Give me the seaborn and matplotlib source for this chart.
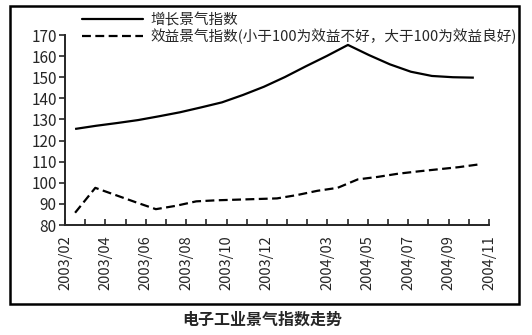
import numpy as np
import pandas as pd
import seaborn as sns
import matplotlib
matplotlib.use("Agg")
import matplotlib.pyplot as plt
from matplotlib.patches import Rectangle

# Month ticks along the x axis (2003/02 .. 2004/11) and the ones that carry a label
tick_labels = ["2003/02", "2003/04", "2003/06", "2003/08", "2003/10", "2003/12",
               "2004/03", "2004/05", "2004/07", "2004/09", "2004/11"]
tick_slots = [0, 2, 4, 6, 8, 10, 13, 15, 17, 19, 21]

# Growth climate index (20 readings)
growth_index = [125.5, 127.0, 128.3, 129.7, 131.5, 133.4, 135.7, 138.1, 141.6, 145.5,
                150.1, 155.2, 160.1, 165.3, 160.5, 156.1, 152.6, 150.6, 150.0, 149.8]

# Profit climate index (21 readings)
profit_index = [85.8, 97.6, 94.2, 90.8, 87.5, 89.1, 91.2, 91.7, 92.0, 92.3, 92.6,
                94.2, 96.2, 97.6, 101.6, 102.8, 104.3, 105.4, 106.4, 107.4, 108.7]

series_names = ["增长景气指数", "效益景气指数(小于100为效益不好，大于100为效益良好)"]
chart_title = "电子工业景气指数走势"

sns.set_style("ticks")
plt.rcParams["font.family"] = ["Noto Sans CJK SC", "DejaVu Sans"]

growth_df = pd.DataFrame({"x": np.linspace(0.5, 20.25, len(growth_index)),
                          "value": growth_index, "series": series_names[0]})
profit_df = pd.DataFrame({"x": np.linspace(0.5, 20.5, len(profit_index)),
                          "value": profit_index, "series": series_names[1]})
df = pd.concat([growth_df, profit_df], ignore_index=True)

W, H = 532, 335
fig = plt.figure(figsize=(W / 100, H / 100), dpi=100)
ax = fig.add_axes([65 / W, 1 - 225 / H, (489 - 65) / W, (225 - 35) / H])

sns.lineplot(data=df, x="x", y="value", hue="series", style="series",
             palette=["black", "black"], dashes=[(1, 0), (4, 2)],
             linewidth=1.6, sort=False, legend=False, ax=ax)

ax.set_xlim(0, 21)
ax.set_ylim(80, 170)
ax.set_yticks(np.arange(80, 171, 10))
ax.set_xticks(np.arange(0, 22))
ax.set_xticklabels(["" for _ in range(22)])
for pos, lab in zip(tick_slots, tick_labels):
    ax.text(pos, -0.055, lab, rotation=90, ha="center", va="top",
            transform=ax.get_xaxis_transform(), fontsize=10.5)
ax.set_xlabel("")
ax.set_ylabel("")
ax.tick_params(axis="x", direction="in", length=4, width=1.2)
ax.tick_params(axis="y", direction="out", length=4, width=1.2, labelsize=11, pad=2)
for side in ["top", "right"]:
    ax.spines[side].set_visible(False)
for side in ["left", "bottom"]:
    ax.spines[side].set_linewidth(1.4)
ax.patch.set_alpha(0)

# Legend drawn above the plotting area
handles = [plt.Line2D([], [], color="black", lw=1.6),
           plt.Line2D([], [], color="black", lw=1.6, dashes=(4, 2))]
fig.legend(handles, series_names, loc="upper left",
           bbox_to_anchor=(82 / W, 1 - 13 / H), frameon=False,
           handlelength=4.2, handletextpad=0.5, labelspacing=0.1,
           fontsize=10.5, borderaxespad=0, borderpad=0)

# Outer frame and caption
fig.patches.append(Rectangle((10 / W, 1 - 304 / H), 509 / W, 298 / H,
                             transform=fig.transFigure, fill=False,
                             edgecolor="black", linewidth=1.8))
fig.text(262 / W, 1 - 320 / H, chart_title, ha="center", va="center",
         fontsize=11.5, fontweight="bold")

fig.savefig("out.png", dpi=100)
